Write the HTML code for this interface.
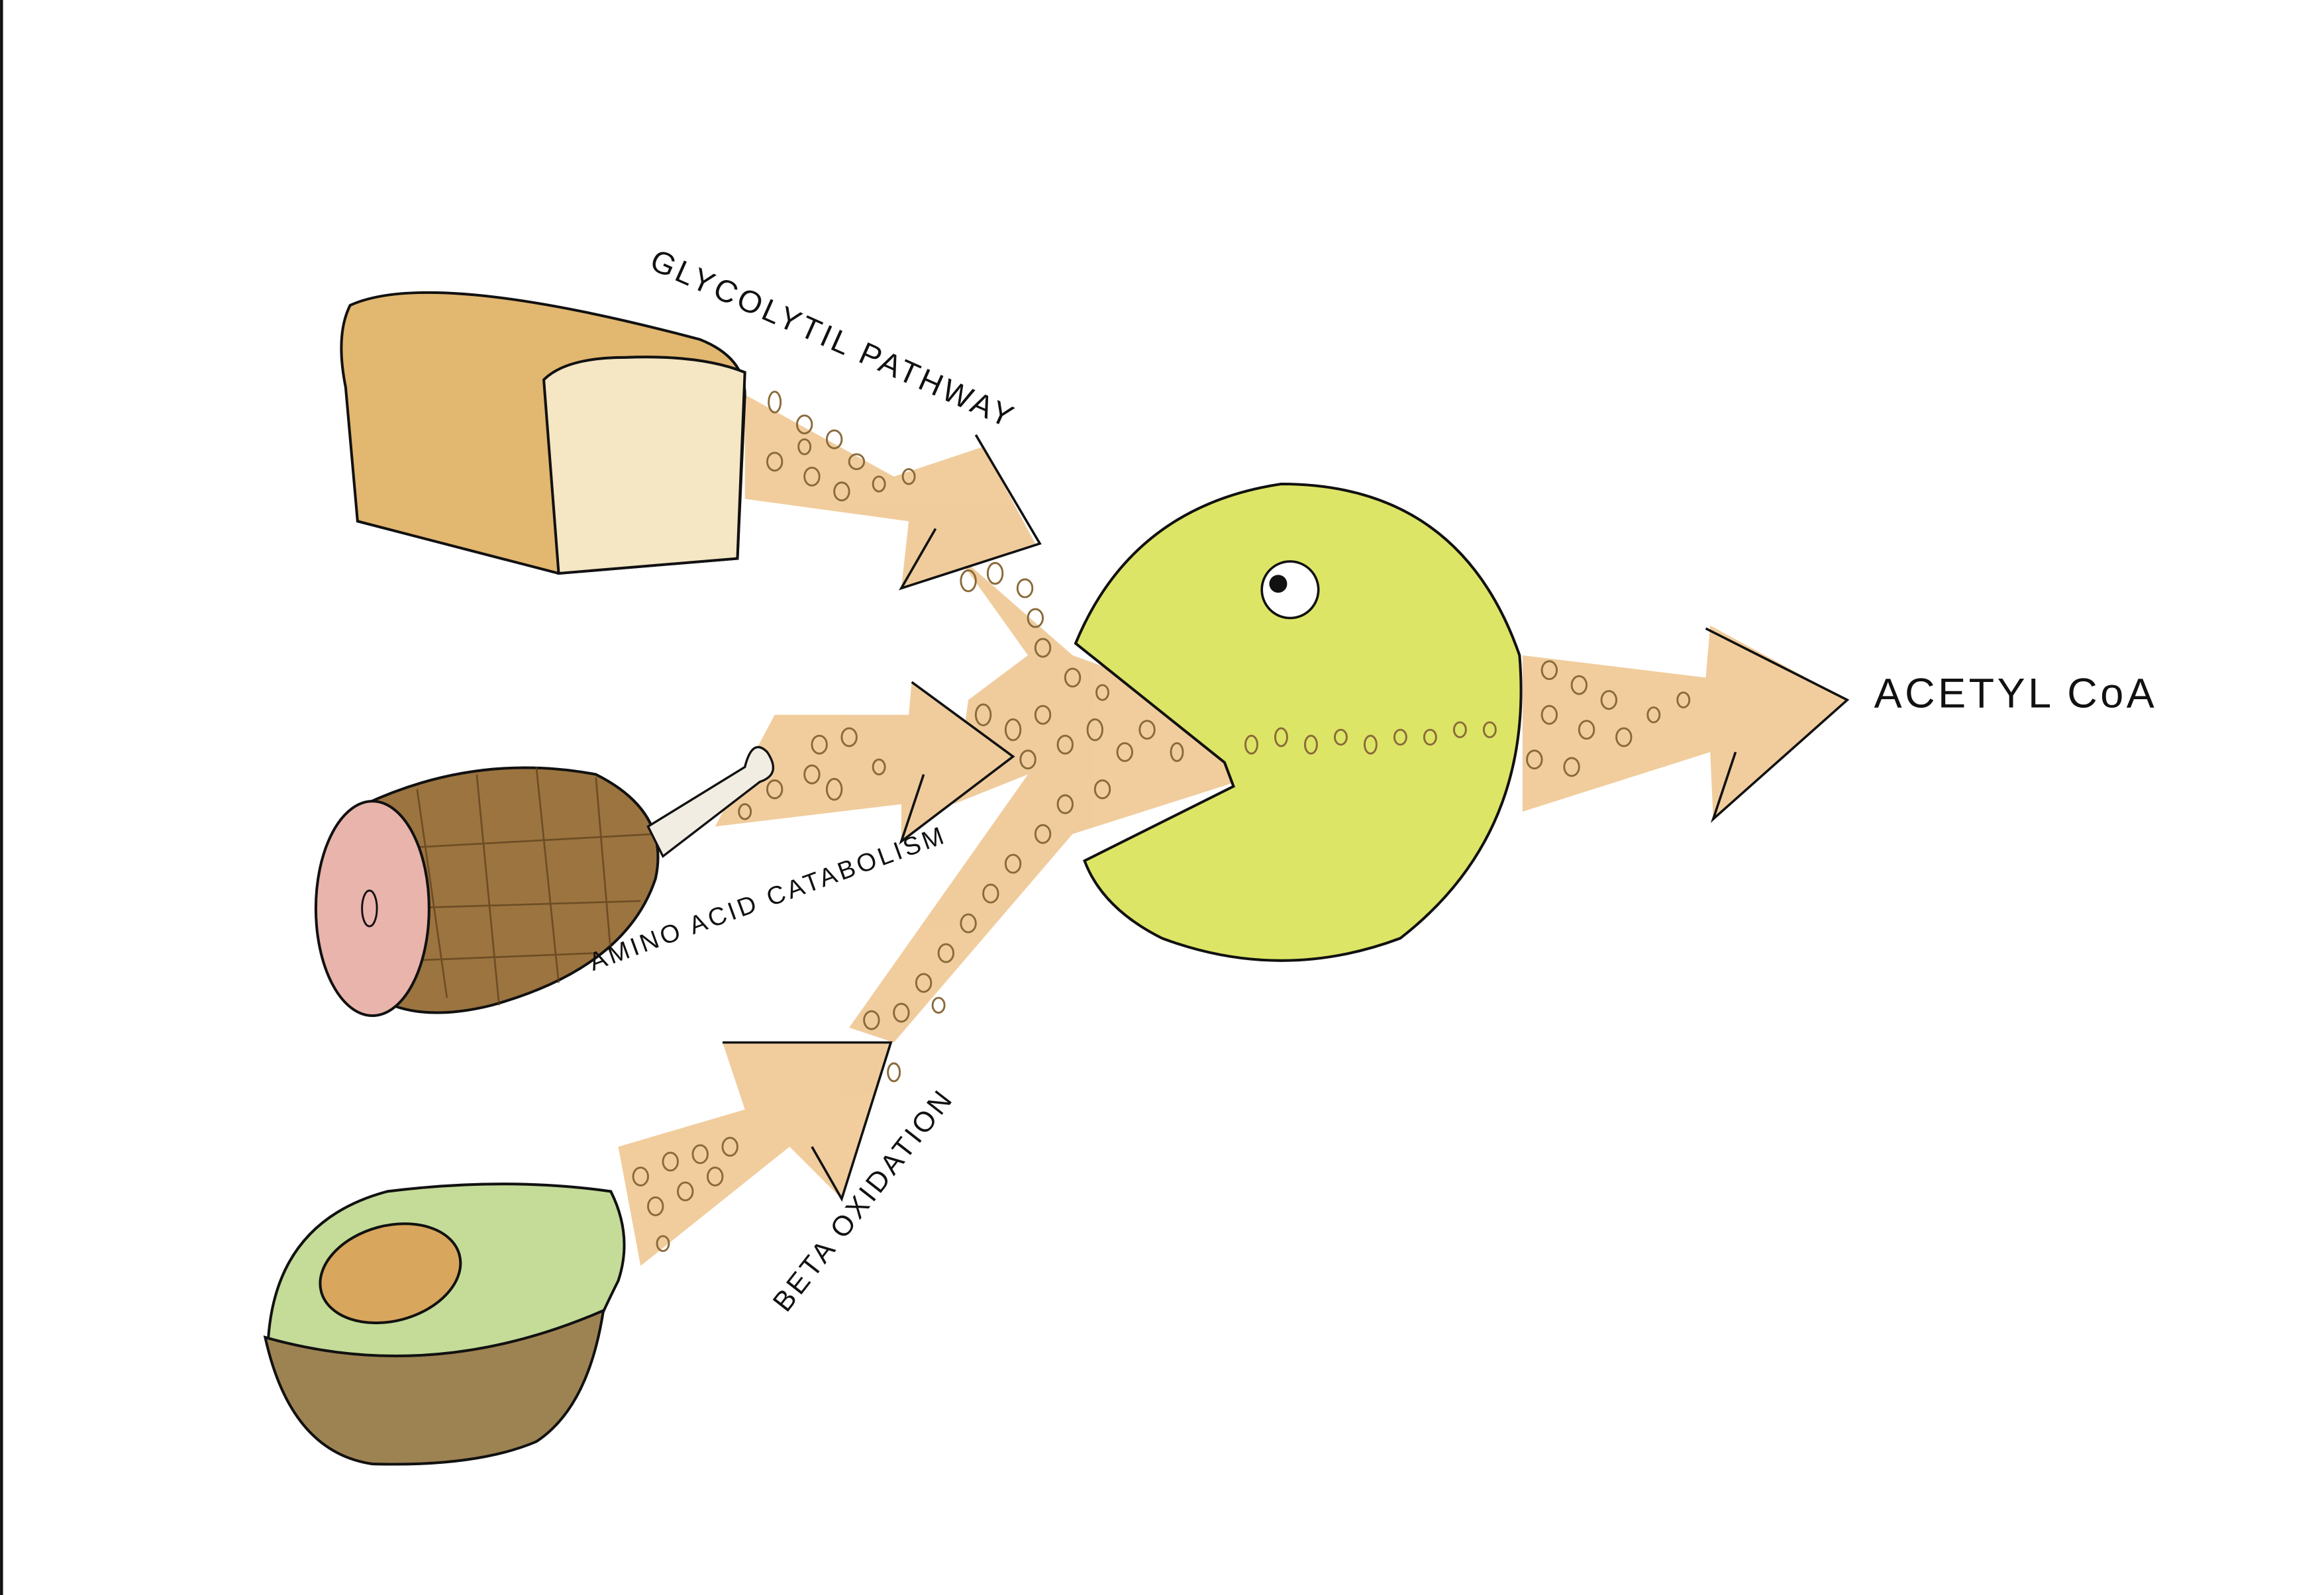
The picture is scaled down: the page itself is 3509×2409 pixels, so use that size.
<!DOCTYPE html>
<html><head><meta charset="utf-8"><style>
html,body{margin:0;padding:0;background:#fff}
svg{display:block}
text{font-family:"Liberation Sans",sans-serif;fill:#111}
</style></head><body>
<svg width="3509" height="2409" viewBox="0 0 1560 1071" xmlns="http://www.w3.org/2000/svg">
<rect x="0" y="0" width="1560" height="1071" fill="#fff"/>
<rect x="0" y="0" width="2" height="1071" fill="#111"/>
<g fill="#eec48c" opacity="0.85">
<path d="M500 265 L600 320 L660 300 L695 365 L605 395 L610 350 L500 335 Z"/>
<path d="M520 480 L610 480 L612 458 L680 508 L605 565 L605 540 L480 555 Z"/>
<path d="M415 770 L500 745 L485 700 L598 700 L565 805 L530 770 L430 850 Z"/>
<path d="M1022 440 L1145 455 L1148 420 L1240 470 L1150 550 L1148 505 L1022 545 Z"/>
<path d="M640 370 L720 440 L830 480 L1015 470 L1015 505 L830 525 L720 560 L600 700 L570 690 L690 520 L640 540 L650 470 L690 440 Z"/>
</g>
<g fill="none" stroke="#111" stroke-width="1.6">
<path d="M655 292 L698 365 L605 395 L628 355"/>
<path d="M612 458 L680 508 L605 565 L620 520"/>
<path d="M485 700 L598 700 L565 805 L545 770"/>
<path d="M1145 422 L1240 470 L1150 550 L1165 505"/>
</g>
<!-- bread -->
<path d="M235 205 Q290 180 470 228 Q500 240 500 265 L495 375 L375 385 L240 350 L232 260 Q225 225 235 205 Z" fill="#e2b770" stroke="#111" stroke-width="1.8"/>
<path d="M365 255 Q380 240 420 240 Q470 238 500 250 L495 375 L375 385 Z" fill="#f5e6c4" stroke="#111" stroke-width="1.8"/>
<!-- ham -->
<path d="M245 540 Q320 505 400 520 Q450 545 440 590 Q420 650 330 675 Q270 690 240 660 Z" fill="#9c7440" stroke="#111" stroke-width="1.8"/>
<g stroke="#5a3d18" stroke-width="1.2" fill="none" opacity="0.7">
<path d="M280 530 L300 670 M320 520 L335 675 M360 515 L375 660 M400 522 L410 640"/>
<path d="M260 570 L440 560 M265 610 L430 605 M275 645 L400 640"/>
</g>
<ellipse cx="250" cy="610" rx="38" ry="72" fill="#e9b4ac" stroke="#111" stroke-width="1.8"/>
<ellipse cx="248" cy="610" rx="5" ry="12" fill="none" stroke="#111" stroke-width="1.3"/>
<path d="M435 555 L500 515 Q505 495 515 505 Q525 520 510 525 L445 575 Z" fill="#f2ede3" stroke="#111" stroke-width="1.5"/>
<!-- avocado -->
<path d="M180 900 Q185 820 260 800 Q340 790 410 800 Q425 830 415 860 Q400 890 395 905 Q300 930 180 900 Z" fill="#c4dc98" stroke="#111" stroke-width="1.8"/>
<path d="M178 898 Q290 930 405 880 Q395 945 360 968 Q320 985 250 983 Q195 975 178 898 Z" fill="#9e8352" stroke="#111" stroke-width="1.8"/>
<ellipse cx="262" cy="855" rx="48" ry="32" transform="rotate(-15 262 855)" fill="#d9a65e" stroke="#111" stroke-width="1.8"/>
<!-- pacman -->
<path d="M722 432 Q760 340 860 325 Q980 325 1020 440 Q1030 560 940 630 Q860 660 780 630 Q740 610 728 578 L828 528 L822 512 Z" fill="#dde566" stroke="#111" stroke-width="1.8"/>
<circle cx="866" cy="396" r="19" fill="#fff" stroke="#111" stroke-width="1.6"/>
<circle cx="858" cy="392" r="6" fill="#111"/>
<g fill="none" stroke="#8a6a3a" stroke-width="1.3">
<ellipse cx="520" cy="270" rx="4" ry="7"/><ellipse cx="540" cy="285" rx="5" ry="6"/><ellipse cx="560" cy="295" rx="5" ry="6"/><ellipse cx="575" cy="310" rx="5" ry="5"/><ellipse cx="520" cy="310" rx="5" ry="6"/><ellipse cx="545" cy="320" rx="5" ry="6"/><ellipse cx="565" cy="330" rx="5" ry="6"/><ellipse cx="590" cy="325" rx="4" ry="5"/><ellipse cx="610" cy="320" rx="4" ry="5"/><ellipse cx="540" cy="300" rx="4" ry="5"/>
<ellipse cx="650" cy="390" rx="5" ry="7"/><ellipse cx="668" cy="385" rx="5" ry="7"/><ellipse cx="688" cy="395" rx="5" ry="6"/><ellipse cx="695" cy="415" rx="5" ry="6"/><ellipse cx="700" cy="435" rx="5" ry="6"/><ellipse cx="720" cy="455" rx="5" ry="6"/><ellipse cx="740" cy="465" rx="4" ry="5"/>
<ellipse cx="550" cy="500" rx="5" ry="6"/><ellipse cx="570" cy="495" rx="5" ry="6"/><ellipse cx="545" cy="520" rx="5" ry="6"/><ellipse cx="520" cy="530" rx="5" ry="6"/><ellipse cx="500" cy="545" rx="4" ry="5"/><ellipse cx="560" cy="530" rx="5" ry="7"/><ellipse cx="590" cy="515" rx="4" ry="5"/>
<ellipse cx="660" cy="480" rx="5" ry="7"/><ellipse cx="680" cy="490" rx="5" ry="7"/><ellipse cx="700" cy="480" rx="5" ry="6"/><ellipse cx="690" cy="510" rx="5" ry="6"/><ellipse cx="715" cy="500" rx="5" ry="6"/><ellipse cx="735" cy="490" rx="5" ry="7"/><ellipse cx="755" cy="505" rx="5" ry="6"/><ellipse cx="770" cy="490" rx="5" ry="6"/><ellipse cx="790" cy="505" rx="4" ry="6"/><ellipse cx="740" cy="530" rx="5" ry="6"/><ellipse cx="715" cy="540" rx="5" ry="6"/><ellipse cx="700" cy="560" rx="5" ry="6"/><ellipse cx="680" cy="580" rx="5" ry="6"/><ellipse cx="665" cy="600" rx="5" ry="6"/><ellipse cx="650" cy="620" rx="5" ry="6"/><ellipse cx="635" cy="640" rx="5" ry="6"/><ellipse cx="620" cy="660" rx="5" ry="6"/><ellipse cx="605" cy="680" rx="5" ry="6"/><ellipse cx="585" cy="685" rx="5" ry="6"/><ellipse cx="630" cy="675" rx="4" ry="5"/><ellipse cx="600" cy="720" rx="4" ry="6"/>
<ellipse cx="840" cy="500" rx="4" ry="6"/><ellipse cx="860" cy="495" rx="4" ry="6"/><ellipse cx="880" cy="500" rx="4" ry="6"/><ellipse cx="900" cy="495" rx="4" ry="5"/><ellipse cx="920" cy="500" rx="4" ry="6"/><ellipse cx="940" cy="495" rx="4" ry="5"/><ellipse cx="960" cy="495" rx="4" ry="5"/><ellipse cx="980" cy="490" rx="4" ry="5"/><ellipse cx="1000" cy="490" rx="4" ry="5"/>
<ellipse cx="1040" cy="450" rx="5" ry="6"/><ellipse cx="1060" cy="460" rx="5" ry="6"/><ellipse cx="1080" cy="470" rx="5" ry="6"/><ellipse cx="1040" cy="480" rx="5" ry="6"/><ellipse cx="1065" cy="490" rx="5" ry="6"/><ellipse cx="1090" cy="495" rx="5" ry="6"/><ellipse cx="1030" cy="510" rx="5" ry="6"/><ellipse cx="1055" cy="515" rx="5" ry="6"/><ellipse cx="1110" cy="480" rx="4" ry="5"/><ellipse cx="1130" cy="470" rx="4" ry="5"/>
<ellipse cx="430" cy="790" rx="5" ry="6"/><ellipse cx="450" cy="780" rx="5" ry="6"/><ellipse cx="470" cy="775" rx="5" ry="6"/><ellipse cx="490" cy="770" rx="5" ry="6"/><ellipse cx="440" cy="810" rx="5" ry="6"/><ellipse cx="460" cy="800" rx="5" ry="6"/><ellipse cx="480" cy="790" rx="5" ry="6"/><ellipse cx="445" cy="835" rx="4" ry="5"/>
</g>
<text x="435" y="180" font-size="21" letter-spacing="2" transform="rotate(24 435 180)">GLYCOLYTIL PATHWAY</text>
<text x="1258" y="475" font-size="28" letter-spacing="2">ACETYL CoA</text>
<text x="398" y="652" font-size="17" letter-spacing="2" transform="rotate(-20 398 652)">AMINO ACID CATABOLISM</text>
<text x="528" y="882" font-size="19" letter-spacing="2" transform="rotate(-52 528 882)">BETA OXIDATION</text>
</svg>
</body></html>
